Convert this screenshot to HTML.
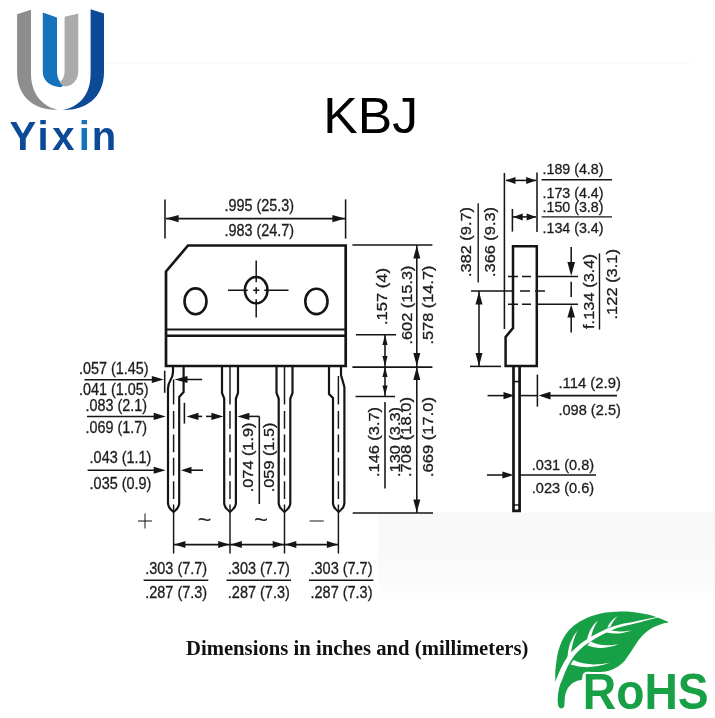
<!DOCTYPE html>
<html lang="en">
<head>
<meta charset="utf-8">
<title>KBJ package outline</title>
<style>
html,body{margin:0;padding:0;background:#fff;}
body{width:715px;height:718px;overflow:hidden;}
svg{display:block;filter:blur(0.45px);}

</style>
</head>
<body>
<svg width="715" height="718" viewBox="0 0 715 718">
<defs><linearGradient id="gb" x1="0" y1="0" x2="0" y2="1"><stop offset="0" stop-color="#f8f8f8"/><stop offset="0.7" stop-color="#fafafa"/><stop offset="1" stop-color="#ffffff"/></linearGradient></defs>
<rect x="0" y="0" width="715" height="718" fill="#ffffff"/>
<rect x="378" y="512.5" width="337" height="88" fill="url(#gb)"/>
<line x1="104" y1="63" x2="690" y2="63" stroke="#f5f5f5" stroke-width="1"/>
<g id="logo">
<path d="M17.1,14.3 L31,9.7 L31,74 C31,96 45,107.5 58,109.6 C40,111 17.1,101 17.1,72 Z" fill="#8d8d8d"/>
<path d="M90.6,9.2 L104,13.4 L104,72 C104,99 84,110.5 63,110 C78,107 90.6,96 90.6,74 Z" fill="#0c4a98"/>
<path d="M42.8,12.6 L57,17.6 L57,70 C57,78 59,82 64,85 C62,86.5 61.5,87 60,87.3 C49,86 42.8,80 42.8,72 Z" fill="#1473ba"/>
<path d="M64.6,16.8 L78.3,13.4 L78.3,71 C78.3,80 73,85.5 65.5,86.6 C63,85.5 61,84.5 59.5,82.5 C63,80 64.6,76 64.6,70 Z" fill="#ababab"/>
<defs><linearGradient id="yx" gradientUnits="userSpaceOnUse" x1="0" y1="0" x2="125" y2="0"><stop offset="0" stop-color="#0c4a98"/><stop offset="0.624" stop-color="#0c4a98"/><stop offset="0.624" stop-color="#1473ba"/><stop offset="0.728" stop-color="#1473ba"/><stop offset="0.728" stop-color="#0c4a98"/><stop offset="1" stop-color="#0c4a98"/></linearGradient></defs>
<text x="9.4 37.5 52.2 78.7 91.8" y="150" font-family="'Liberation Sans', sans-serif" font-weight="bold" font-size="40" fill="url(#yx)">Yixin</text>
</g>
<text x="323.3" y="133" font-family="'Liberation Sans', sans-serif" font-size="49.6" textLength="94.8" lengthAdjust="spacingAndGlyphs" fill="#000">KBJ</text>
<g stroke="#151515" fill="none" stroke-linecap="butt">
<path d="M166,271.5 L188,245.5 L345.7,245.5 L345.7,366 L166,366 Z" stroke-width="2.7" stroke-linejoin="miter"/>
<line x1="166" y1="329.4" x2="345.7" y2="329.4" stroke-width="2.0" />
<line x1="166" y1="335.7" x2="345.7" y2="335.7" stroke-width="2.5" />
<ellipse cx="195.5" cy="301.3" rx="11" ry="12.9" stroke-width="2.6"/>
<ellipse cx="316.4" cy="301.4" rx="11.1" ry="12.7" stroke-width="2.6"/>
<ellipse cx="256.2" cy="290.2" rx="11.3" ry="13.1" stroke-width="2.5"/>
<path d="M228,290.2 H247.7 M253.2,290.2 H259.3 M264.3,290.2 H288.5 M256.2,260.5 V282.2 M256.2,287.2 V293.8 M256.2,299.3 V317.4" stroke-width="1.5"/>
<path d="M173,366 L173,372 C173,380 168,380 168,388.5 L168,503 C168,507 171,510 173.6,512 C176.2,510 179.2,507 179.2,503 L179.2,397 L183.6,392 L183.6,366" stroke-width="2.2"/>
<path d="M222,366 L222,393 L224.2,398.5 L224.2,503 C224.2,507 227.4,510 230,512 C232.6,510 235.9,507 235.9,503 L235.9,398.5 L238,393 L238,366" stroke-width="2.2"/>
<path d="M276.5,366 L276.5,393 L278.7,398.5 L278.7,503 C278.7,507 281.9,510 284.5,512 C287.1,510 290.3,507 290.3,503 L290.3,398.5 L292.5,393 L292.5,366" stroke-width="2.2"/>
<path d="M329,366 L329,394 L333,398 L333,503 C333,507 336.1,510 338.7,512 C341.3,510 344.4,507 344.4,503 L344.4,387 L341,375 L341,366" stroke-width="2.2"/>
<path d="M173.6,379.5 V404.5 M173.6,411 V428.8 M173.6,434.4 V452.2 M173.6,457.8 V475.6 M173.6,481.2 V499 M173.6,504.6 V553.5" stroke-width="1.45"/>
<path d="M230,366.7 V404.5 M230,411 V428.8 M230,434.4 V452.2 M230,457.8 V475.6 M230,481.2 V499 M230,504.6 V553.5" stroke-width="1.45"/>
<path d="M284.5,366.7 V404.5 M284.5,411 V428.8 M284.5,434.4 V452.2 M284.5,457.8 V475.6 M284.5,481.2 V499 M284.5,504.6 V553.5" stroke-width="1.45"/>
<path d="M338.4,376 V404.5 M338.4,411 V428.8 M338.4,434.4 V452.2 M338.4,457.8 V475.6 M338.4,481.2 V499 M338.4,504.6 V553.5" stroke-width="1.45"/>
<line x1="165" y1="199.4" x2="165" y2="238.6" stroke-width="1.55" />
<line x1="345.6" y1="199.4" x2="345.6" y2="238.6" stroke-width="1.55" />
<line x1="166" y1="218.6" x2="345" y2="218.6" stroke-width="1.55" />
<line x1="352.4" y1="245" x2="432.4" y2="245" stroke-width="1.55" />
<line x1="356" y1="334.8" x2="396" y2="334.8" stroke-width="1.55" />
<line x1="352.4" y1="367.1" x2="432.4" y2="367.1" stroke-width="1.55" />
<line x1="355.6" y1="396.4" x2="395" y2="396.4" stroke-width="1.55" />
<line x1="352.7" y1="513" x2="433" y2="513" stroke-width="1.55" />
<line x1="416.8" y1="245" x2="416.8" y2="513" stroke-width="1.55" />
<line x1="385" y1="334.4" x2="385" y2="396" stroke-width="1.55" />
<line x1="385" y1="402" x2="385" y2="488.6" stroke-width="1.55" />
<line x1="164.7" y1="370.7" x2="164.7" y2="392.8" stroke-width="1.55" />
<line x1="84.4" y1="379.8" x2="152" y2="379.8" stroke-width="1.55" />
<line x1="187" y1="379.5" x2="202.2" y2="379.5" stroke-width="1.55" />
<line x1="87" y1="416.4" x2="154" y2="416.4" stroke-width="1.55" />
<line x1="184.4" y1="402.8" x2="184.4" y2="423.6" stroke-width="1.55" />
<line x1="198" y1="416.4" x2="202.2" y2="416.4" stroke-width="1.55" />
<line x1="206" y1="416.4" x2="212" y2="416.4" stroke-width="1.55" />
<line x1="249" y1="416.4" x2="259.3" y2="416.4" stroke-width="1.55" />
<line x1="259.3" y1="416.4" x2="259.3" y2="504" stroke-width="1.55" />
<line x1="87.6" y1="470.2" x2="154" y2="470.2" stroke-width="1.55" />
<line x1="191" y1="470.2" x2="203" y2="470.2" stroke-width="1.55" />
<line x1="174" y1="544.6" x2="338" y2="544.6" stroke-width="1.55" />
<line x1="143.6" y1="580.2" x2="208.3" y2="580.2" stroke-width="1.4" />
<line x1="226.5" y1="580.2" x2="291" y2="580.2" stroke-width="1.4" />
<line x1="309" y1="580.2" x2="373.4" y2="580.2" stroke-width="1.4" />
<line x1="138" y1="521" x2="152" y2="521" stroke-width="1.0" />
<line x1="145" y1="513.5" x2="145" y2="528.5" stroke-width="1.0" />
<line x1="309.6" y1="521" x2="323.8" y2="521" stroke-width="1.0" />
<path d="M513,246.3 L536.8,246.3 L536.8,366 L505.6,366 L505.6,337 L513,328 Z" stroke-width="2.5"/>
<path d="M513.5,366 L513.5,510.8 L519.6,510.8 L519.6,366" stroke-width="2.7"/>
<line x1="513.5" y1="381.6" x2="519.6" y2="381.6" stroke-width="1.6" />
<line x1="513.5" y1="505" x2="519.6" y2="505" stroke-width="1.4" />
<line x1="504.4" y1="173" x2="504.4" y2="329" stroke-width="1.55" />
<line x1="537" y1="172.4" x2="537" y2="232" stroke-width="1.55" />
<line x1="512.4" y1="209" x2="512.4" y2="231.6" stroke-width="1.55" />
<line x1="506" y1="180.4" x2="536" y2="180.4" stroke-width="1.55" />
<line x1="513" y1="216.9" x2="536" y2="216.9" stroke-width="1.55" />
<line x1="541.6" y1="179.8" x2="612" y2="179.8" stroke-width="1.4" />
<line x1="541.6" y1="216.9" x2="612" y2="216.9" stroke-width="1.4" />
<path d="M508,276.6 H518 M522,276.6 H531 M536.8,276.6 H578" stroke-width="1.5"/>
<path d="M508,304.2 H518 M522,304.2 H531 M536.8,304.2 H578" stroke-width="1.5"/>
<path d="M471,291 H514 M520,291 H530 M535,291 H545" stroke-width="1.5"/>
<line x1="571.2" y1="247" x2="571.2" y2="262" stroke-width="1.55" />
<line x1="571.2" y1="281.8" x2="571.2" y2="297" stroke-width="1.55" />
<line x1="571.2" y1="316" x2="571.2" y2="332.4" stroke-width="1.55" />
<line x1="599.5" y1="253.4" x2="599.5" y2="329.5" stroke-width="1.4" />
<line x1="478.2" y1="203.3" x2="478.2" y2="282.4" stroke-width="1.4" />
<line x1="479" y1="291" x2="479" y2="366.4" stroke-width="1.55" />
<line x1="470" y1="366.4" x2="501" y2="366.4" stroke-width="1.55" />
<line x1="487.6" y1="395.6" x2="504" y2="395.6" stroke-width="1.55" />
<line x1="519.4" y1="395.6" x2="537" y2="395.6" stroke-width="1.55" />
<line x1="550" y1="395.6" x2="617" y2="395.6" stroke-width="1.55" />
<line x1="537.4" y1="374.6" x2="537.4" y2="406.6" stroke-width="1.55" />
<line x1="487" y1="475" x2="503" y2="475" stroke-width="1.55" />
<line x1="520" y1="475" x2="596" y2="475" stroke-width="1.55" />
</g>
<g fill="#151515" stroke="none">
<polygon class="ah" points="166.0,218.6 178.6,214.9 178.6,222.3"/>
<polygon class="ah" points="345.0,218.6 332.4,214.9 332.4,222.3"/>
<polygon class="ah" points="416.8,245.5 413.3,258.5 420.3,258.5"/>
<polygon class="ah" points="416.8,366.0 413.3,353.0 420.3,353.0"/>
<polygon class="ah" points="416.8,367.0 413.3,380.0 420.3,380.0"/>
<polygon class="ah" points="416.8,512.5 413.3,499.5 420.3,499.5"/>
<polygon class="ah" points="385.0,335.0 382.4,345.0 387.6,345.0"/>
<polygon class="ah" points="385.0,366.0 382.4,356.0 387.6,356.0"/>
<polygon class="ah" points="385.0,367.0 382.4,377.0 387.6,377.0"/>
<polygon class="ah" points="385.0,395.5 382.4,385.5 387.6,385.5"/>
<polygon class="ah" points="163.8,379.5 151.8,375.9 151.8,383.1"/>
<polygon class="ah" points="174.5,379.5 187.5,375.9 187.5,383.1"/>
<polygon class="ah" points="165.7,416.4 153.7,412.8 153.7,420.0"/>
<polygon class="ah" points="186.5,416.4 198.5,412.8 198.5,420.0"/>
<polygon class="ah" points="223.4,416.4 211.4,412.8 211.4,420.0"/>
<polygon class="ah" points="237.4,416.4 249.4,412.8 249.4,420.0"/>
<polygon class="ah" points="165.7,470.2 153.7,466.7 153.7,473.7"/>
<polygon class="ah" points="181.0,470.2 191.5,466.7 191.5,473.7"/>
<polygon class="ah" points="174.4,544.6 185.4,541.1 185.4,548.1"/>
<polygon class="ah" points="229.2,544.6 218.2,541.1 218.2,548.1"/>
<polygon class="ah" points="230.8,544.6 241.8,541.1 241.8,548.1"/>
<polygon class="ah" points="283.7,544.6 272.7,541.1 272.7,548.1"/>
<polygon class="ah" points="285.3,544.6 296.3,541.1 296.3,548.1"/>
<polygon class="ah" points="337.9,544.6 326.9,541.1 326.9,548.1"/>
<polygon class="ah" points="505.5,180.4 515.5,176.9 515.5,183.9"/>
<polygon class="ah" points="536.2,180.4 526.2,176.9 526.2,183.9"/>
<polygon class="ah" points="513.2,216.9 522.7,213.4 522.7,220.4"/>
<polygon class="ah" points="536.2,216.9 526.7,213.4 526.7,220.4"/>
<polygon class="ah" points="571.2,276.0 567.4,262.0 575.0,262.0"/>
<polygon class="ah" points="571.2,304.6 567.4,317.6 575.0,317.6"/>
<polygon class="ah" points="479.0,291.5 475.5,304.5 482.5,304.5"/>
<polygon class="ah" points="479.0,366.0 475.5,353.0 482.5,353.0"/>
<polygon class="ah" points="514.5,395.6 503.5,392.0 503.5,399.2"/>
<polygon class="ah" points="538.5,395.6 550.5,391.8 550.5,399.4"/>
<polygon class="ah" points="513.4,475.0 502.4,471.4 502.4,478.6"/>
</g>
<g fill="#1c1c1c" stroke="#1c1c1c" stroke-width="0.3" font-family="'Liberation Sans', sans-serif">
<text x="224.4" y="211" font-size="15.8" textLength="69.6" lengthAdjust="spacingAndGlyphs">.995 (25.3)</text>
<text x="224.4" y="236" font-size="15.8" textLength="69.6" lengthAdjust="spacingAndGlyphs">.983 (24.7)</text>
<text x="79" y="374.4" font-size="15.8" textLength="69.6" lengthAdjust="spacingAndGlyphs">.057 (1.45)</text>
<text x="79" y="395.2" font-size="15.8" textLength="69.6" lengthAdjust="spacingAndGlyphs">.041 (1.05)</text>
<text x="85.6" y="410.8" font-size="15.8" textLength="61.4" lengthAdjust="spacingAndGlyphs">.083 (2.1)</text>
<text x="85.6" y="433" font-size="15.8" textLength="61.4" lengthAdjust="spacingAndGlyphs">.069 (1.7)</text>
<text x="89.6" y="463" font-size="15.8" textLength="61.8" lengthAdjust="spacingAndGlyphs">.043 (1.1)</text>
<text x="89.6" y="488.6" font-size="15.8" textLength="61.8" lengthAdjust="spacingAndGlyphs">.035 (0.9)</text>
<text x="145.2" y="573.9" font-size="15.8" textLength="62" lengthAdjust="spacingAndGlyphs">.303 (7.7)</text>
<text x="145.2" y="598.3" font-size="15.8" textLength="62" lengthAdjust="spacingAndGlyphs">.287 (7.3)</text>
<text x="227.8" y="573.9" font-size="15.8" textLength="62" lengthAdjust="spacingAndGlyphs">.303 (7.7)</text>
<text x="227.8" y="598.3" font-size="15.8" textLength="62" lengthAdjust="spacingAndGlyphs">.287 (7.3)</text>
<text x="310.5" y="573.9" font-size="15.8" textLength="62" lengthAdjust="spacingAndGlyphs">.303 (7.7)</text>
<text x="310.5" y="598.3" font-size="15.8" textLength="62" lengthAdjust="spacingAndGlyphs">.287 (7.3)</text>
<text x="542.5" y="174.2" font-size="14.8" textLength="61" lengthAdjust="spacingAndGlyphs">.189 (4.8)</text>
<text x="542.5" y="197.6" font-size="14.8" textLength="61" lengthAdjust="spacingAndGlyphs">.173 (4.4)</text>
<text x="542.5" y="212.2" font-size="14.8" textLength="61" lengthAdjust="spacingAndGlyphs">.150 (3.8)</text>
<text x="542.5" y="233.1" font-size="14.8" textLength="61" lengthAdjust="spacingAndGlyphs">.134 (3.4)</text>
<text x="558.4" y="388.1" font-size="15" textLength="62.5" lengthAdjust="spacingAndGlyphs">.114 (2.9)</text>
<text x="558.4" y="415.1" font-size="15" textLength="62.5" lengthAdjust="spacingAndGlyphs">.098 (2.5)</text>
<text x="531.8" y="469.6" font-size="15.2" textLength="62.3" lengthAdjust="spacingAndGlyphs">.031 (0.8)</text>
<text x="531.8" y="493.2" font-size="15.2" textLength="62.3" lengthAdjust="spacingAndGlyphs">.023 (0.6)</text>
<text transform="translate(386.8,325) rotate(-90)" font-size="14.3" textLength="57" lengthAdjust="spacingAndGlyphs">.157 (4)</text>
<text transform="translate(411.6,344.5) rotate(-90)" font-size="14.3" textLength="79" lengthAdjust="spacingAndGlyphs">.602 (15.3)</text>
<text transform="translate(433,344.5) rotate(-90)" font-size="14.3" textLength="79" lengthAdjust="spacingAndGlyphs">.578 (14.7)</text>
<text transform="translate(379.2,477) rotate(-90)" font-size="14.3" textLength="70" lengthAdjust="spacingAndGlyphs">.146 (3.7)</text>
<text transform="translate(399.8,477) rotate(-90)" font-size="14.3" textLength="70" lengthAdjust="spacingAndGlyphs">.130 (3.3)</text>
<text transform="translate(411.4,477) rotate(-90)" font-size="14.3" textLength="80" lengthAdjust="spacingAndGlyphs">.708 (18.0)</text>
<text transform="translate(433.2,477) rotate(-90)" font-size="14.3" textLength="80" lengthAdjust="spacingAndGlyphs">.669 (17.0)</text>
<text transform="translate(253.4,492.2) rotate(-90)" font-size="14.3" textLength="69.6" lengthAdjust="spacingAndGlyphs">.074 (1.9)</text>
<text transform="translate(274.3,492.2) rotate(-90)" font-size="14.3" textLength="69.6" lengthAdjust="spacingAndGlyphs">.059 (1.5)</text>
<text transform="translate(471,277) rotate(-90)" font-size="14.3" textLength="70" lengthAdjust="spacingAndGlyphs">.382 (9.7)</text>
<text transform="translate(495,277) rotate(-90)" font-size="14.3" textLength="70" lengthAdjust="spacingAndGlyphs">.366 (9.3)</text>
<text transform="translate(593.8,329) rotate(-90)" font-size="14.3" textLength="75" lengthAdjust="spacingAndGlyphs">f.134 (3.4)</text>
<text transform="translate(617.4,319.5) rotate(-90)" font-size="14.3" textLength="70.5" lengthAdjust="spacingAndGlyphs">.122 (3.1)</text>
</g>
<g fill="#2a2a2a" font-family="'Liberation Sans', sans-serif">
<text x="197.5" y="528" font-size="23" textLength="14" lengthAdjust="spacingAndGlyphs">~</text>
<text x="254" y="528" font-size="23" textLength="14" lengthAdjust="spacingAndGlyphs">~</text>
</g>
<text x="186" y="654.8" font-family="'Liberation Serif', serif" font-weight="bold" font-size="20" fill="#111" textLength="342.5" lengthAdjust="spacingAndGlyphs">Dimensions in inches and (millimeters)</text>
<g id="rohs" fill="#17a045">
<path d="M668.2,622.3 C667.9,621.6 664.1,620.2 662.0,619.3 C659.9,618.4 657.8,617.6 655.5,616.8 C653.2,616.0 650.4,615.2 648.0,614.6 C645.6,614.0 643.6,613.7 640.9,613.2 C638.2,612.8 635.0,612.2 632.0,611.9 C629.0,611.6 626.0,611.5 622.7,611.5 C619.4,611.5 615.0,611.8 612.0,612.0 C609.0,612.2 606.7,612.5 604.5,612.8 C602.3,613.1 601.5,613.2 599.0,613.9 C596.5,614.6 592.5,615.6 589.2,616.9 C585.9,618.2 582.7,619.7 579.4,621.8 C576.1,623.9 572.4,626.7 569.6,629.6 C566.8,632.5 564.6,635.8 562.7,639.4 C560.8,643.0 559.4,647.0 558.3,651.1 C557.2,655.2 556.6,660.4 556.1,663.9 C555.6,667.4 555.4,669.5 555.3,672.0 C555.2,674.5 555.2,676.4 555.3,678.7 C555.4,681.0 555.7,683.4 556.0,686.0 C556.3,688.6 556.8,691.5 557.0,694.1 C557.2,696.7 557.2,699.4 557.5,701.5 C557.8,703.6 558.0,705.3 558.6,706.5 C559.2,707.7 560.5,708.5 561.4,708.5 C562.3,708.5 563.6,707.7 564.1,706.5 C564.6,705.3 564.5,703.2 564.6,701.5 C564.8,699.8 564.6,698.0 565.0,696.0 C565.4,694.0 566.1,691.5 567.1,689.5 C568.1,687.5 569.6,685.6 571.2,684.2 C572.8,682.8 575.0,681.8 576.7,681.0 C578.4,680.2 580.7,680.4 581.6,679.7 C582.5,679.0 582.2,677.6 582.4,676.7 C582.6,675.8 582.5,674.9 583.0,674.1 C583.5,673.3 584.1,672.4 585.6,672.0 C587.1,671.6 589.4,672.0 591.8,672.0 C594.2,672.0 597.5,672.1 600.0,672.0 C602.5,671.9 604.7,671.7 607.0,671.2 C609.3,670.7 611.9,669.8 614.0,668.8 C616.1,667.8 617.8,666.8 619.5,665.5 C621.2,664.2 623.1,662.6 624.5,661.0 C625.9,659.4 626.8,657.8 628.0,656.0 C629.2,654.2 630.5,652.4 631.8,650.5 C633.0,648.6 634.3,646.6 635.5,644.8 C636.7,643.0 637.8,641.2 639.1,639.5 C640.4,637.8 642.0,636.0 643.5,634.5 C645.0,633.0 646.5,631.7 648.2,630.5 C649.9,629.3 651.7,628.2 653.5,627.3 C655.3,626.4 657.4,625.7 659.1,625.0 C660.9,624.3 662.5,623.8 664.0,623.3 C665.5,622.8 668.5,623.0 668.2,622.3 Z"/>
<g fill="#ffffff" stroke="none">
<path d="M557.5,704.0 L557.6,698.2 L558.3,692.4 L559.2,687.7 L560.5,683.5 L562.2,679.7 L564.9,672.6 L567.9,666.0 L571.6,659.4 L575.0,654.8 L578.8,650.7 L583.3,646.6 L588.3,642.9 L592.9,639.9 L597.9,637.1 L602.6,634.5 L607.5,632.1 L612.2,630.0 L617.0,628.0 L624.3,626.0 L632.0,624.2 L642.0,621.7 L651.9,619.1 L658.0,617.4 L658.0,617.0 L651.7,618.1 L641.6,620.1 L631.6,622.2 L623.7,623.6 L616.2,625.4 L611.0,627.2 L606.1,629.1 L601.0,631.5 L596.1,633.9 L591.1,636.7 L586.1,639.7 L580.7,643.4 L576.0,647.7 L571.6,651.8 L567.6,656.6 L563.3,663.6 L559.9,670.4 L557.0,677.5 L555.3,681.5 L553.8,686.3 L552.7,691.6 L552.0,697.8 L551.9,704.0 Z"/>
<path d="M567.3,659.5 Q567.5,643 577.4,630.6 Q571.5,644 570.8,655 Z"/>
<path d="M586.8,641.8 Q588,629 598,620.3 Q592,630 590.8,639 Z"/>
<path d="M607.2,628.2 Q609.5,621 617.6,615.9 Q612.5,621.5 610.8,626.3 Z"/>
<path d="M590.5,641.2 Q600,647.2 618.6,644.2 Q600,651 587.5,645.5 Z"/>
<path d="M573.5,660 Q588,667 609.7,662.8 Q588,670.5 570.5,664.5 Z"/>
<path d="M608.5,629.5 Q618,633 632,630.2 Q618,635.5 606.5,632.5 Z"/>
</g>
<text x="582.8" y="708.5" font-family="'Liberation Sans', sans-serif" font-weight="bold" font-size="49.4" textLength="125.8" lengthAdjust="spacingAndGlyphs">RoHS</text>
</g>
</svg>
</body>
</html>
